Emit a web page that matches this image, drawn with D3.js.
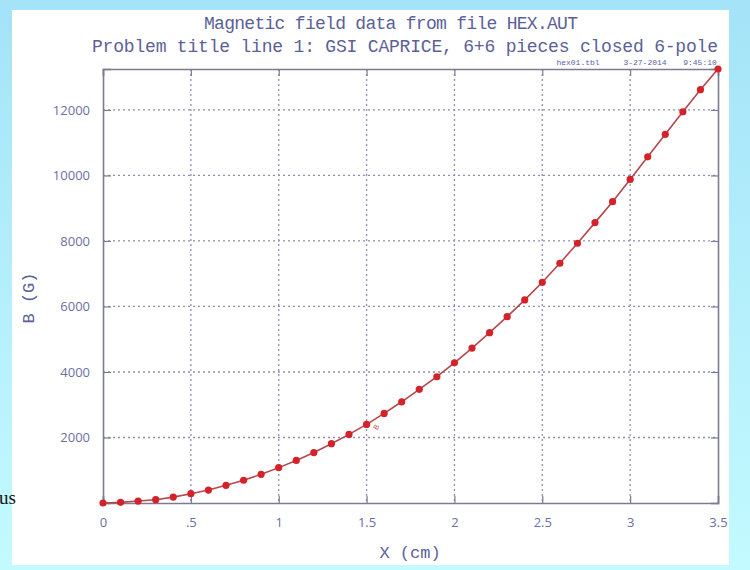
<!DOCTYPE html>
<html>
<head>
<meta charset="utf-8">
<script src="https://cdn.jsdelivr.net/npm/d3@7"></script>
<style>
  body { margin: 0; padding: 0; overflow: hidden; }
  svg { display: block; }
</style>
</head>
<body>
<div id="chart"></div>
<script>
// data
let xValues = [0, 0.1, 0.2, 0.3, 0.4, 0.5, 0.6, 0.7, 0.8, 0.9, 1.0, 1.1, 1.2, 1.3, 1.4, 1.5, 1.6, 1.7,
  1.8, 1.9, 2.0, 2.1, 2.2, 2.3, 2.4, 2.5, 2.6, 2.7, 2.8, 2.9, 3.0, 3.1, 3.2, 3.3, 3.4, 3.5];
let bValues = [0, 20, 60, 100, 180, 285, 395, 540, 695, 875, 1080, 1300, 1540, 1810, 2095, 2400, 2735, 3090,
  3470, 3855, 4280, 4730, 5200, 5690, 6200, 6740, 7320, 7930, 8560, 9200, 9880, 10570, 11255, 11945, 12620, 13250];
let xTicks = [0, 0.5, 1, 1.5, 2, 2.5, 3, 3.5];
let xTickLabels = ["0", ".5", "1", "1.5", "2", "2.5", "3", "3.5"];
let yTicks = [2000, 4000, 6000, 8000, 10000, 12000];
let titleLines = ["Magnetic field data from file HEX.AUT",
  "Problem title line 1: GSI CAPRICE, 6+6 pieces closed 6-pole"];
let stamp = ["hex01.tbl", "3-27-2014", "9:45:10"];

let W = 750, H = 570;
let margin = {top: 69, right: 32, bottom: 67, left: 103},
  width = W - margin.left - margin.right,
  height = H - margin.top - margin.bottom;

let ink = "#5c5f98";
let mono = "'Liberation Mono', 'DejaVu Sans Mono', monospace";

let root = d3.select("#chart").append("svg")
  .attr("width", W)
  .attr("height", H);

// slide background
let grad = root.append("defs").append("linearGradient")
  .attr("id", "bg").attr("x1", 0).attr("y1", 0).attr("x2", 0).attr("y2", 1);
grad.append("stop").attr("offset", "0%").attr("stop-color", "#a4e3f8");
grad.append("stop").attr("offset", "100%").attr("stop-color", "#c3faff");
root.append("rect").attr("width", W).attr("height", H).attr("fill", "url(#bg)");

root.append("rect")
  .attr("x", 12).attr("y", 10)
  .attr("width", 717).attr("height", 555)
  .attr("fill", "#ffffff");

// bit of slide text showing at the left edge
root.append("text")
  .attr("x", -1).attr("y", 504)
  .style("font-family", "'Liberation Serif', 'DejaVu Serif', serif")
  .style("font-size", "19px")
  .attr("fill", "#111")
  .text("us");

// titles
root.append("text")
  .attr("x", 391).attr("y", 29)
  .attr("text-anchor", "middle")
  .attr("textLength", 374)
  .style("font-family", mono).style("font-size", "18px")
  .attr("fill", ink)
  .text(titleLines[0]);
root.append("text")
  .attr("x", 405).attr("y", 52)
  .attr("text-anchor", "middle")
  .attr("textLength", 626)
  .style("font-family", mono).style("font-size", "18px")
  .attr("fill", ink)
  .text(titleLines[1]);

let stampX = [578, 645, 700];
root.selectAll(".stamp")
  .data(stamp)
  .enter().append("text")
  .attr("class", "stamp")
  .attr("x", (d, i) => stampX[i]).attr("y", 65)
  .attr("text-anchor", "middle")
  .style("font-family", mono).style("font-size", "8px")
  .attr("fill", ink)
  .text(d => d);

let svg = root.append("g")
  .attr("transform", "translate(" + margin.left + "," + margin.top + ")");

let x = d3.scaleLinear().domain([0, 3.5]).range([0, width]);
let y = d3.scaleLinear().domain([0, 13250]).range([height, 0]);

// dotted grid
svg.append("g")
  .selectAll("line")
  .data(xTicks.slice(1, -1))
  .enter().append("line")
  .attr("x1", d => x(d)).attr("x2", d => x(d))
  .attr("y1", 0).attr("y2", height)
  .attr("stroke", "#8c8fb4").attr("stroke-width", 1.3)
  .attr("stroke-dasharray", "2,3");
svg.append("g")
  .selectAll("line")
  .data(yTicks)
  .enter().append("line")
  .attr("x1", 0).attr("x2", width)
  .attr("y1", d => y(d)).attr("y2", d => y(d))
  .attr("stroke", "#8c8fb4").attr("stroke-width", 1.3)
  .attr("stroke-dasharray", "2,3");

// axes with inward ticks
let tickColor = "#7b7b92";
let bottomAxis = svg.append("g")
  .attr("transform", "translate(0," + height + ")")
  .call(d3.axisBottom(x).tickValues(xTicks).tickSize(-7).tickPadding(15)
    .tickFormat((d, i) => xTickLabels[i]));
let topAxis = svg.append("g")
  .call(d3.axisTop(x).tickValues(xTicks).tickSize(-7).tickFormat(""));
let leftAxis = svg.append("g")
  .call(d3.axisLeft(y).tickValues(yTicks).tickSize(-8).tickPadding(13)
    .tickFormat(d3.format("d")));
let rightAxis = svg.append("g")
  .attr("transform", "translate(" + width + ",0)")
  .call(d3.axisRight(y).tickValues(yTicks).tickSize(-7).tickFormat(""));

[bottomAxis, topAxis, leftAxis, rightAxis].forEach(a => {
  a.select(".domain").attr("stroke", tickColor).attr("stroke-width", 1.6);
  a.selectAll(".tick line").attr("stroke", tickColor).attr("stroke-width", 1.2);
  a.selectAll("text")
    .attr("fill", "#6b6fa3")
    .style("font-family", "'Open Sans', 'DejaVu Sans', sans-serif")
    .style("font-size", "13px");
});
bottomAxis.selectAll("text").attr("dy", "0.71em");

// axis titles
root.append("text")
  .attr("transform", "translate(34,298) rotate(-90)")
  .attr("text-anchor", "middle")
  .style("font-family", mono).style("font-size", "17px")
  .attr("fill", ink)
  .text("B (G)");
root.append("text")
  .attr("x", 410).attr("y", 558)
  .attr("text-anchor", "middle")
  .style("font-family", mono).style("font-size", "17px")
  .attr("fill", ink)
  .text("X (cm)");

// curve
let pts = xValues.map((d, i) => [d, bValues[i]]);
svg.append("path")
  .datum(pts)
  .attr("fill", "none")
  .attr("stroke", "#b8454c")
  .attr("stroke-width", 1.6)
  .attr("d", d3.line().x(d => x(d[0])).y(d => y(d[1])));

svg.append("g")
  .selectAll("circle")
  .data(pts)
  .enter().append("circle")
  .attr("cx", d => x(d[0]))
  .attr("cy", d => y(d[1]))
  .attr("r", 3.6)
  .attr("fill", "#d4222a");

// curve label
svg.append("text")
  .attr("transform", "translate(" + (x(1.55) + 3) + "," + (y(2400) + 4) + ") rotate(-60)")
  .attr("text-anchor", "middle")
  .style("font-family", mono).style("font-size", "8px")
  .attr("fill", "#d06060")
  .text("B");
</script>
</body>
</html>
